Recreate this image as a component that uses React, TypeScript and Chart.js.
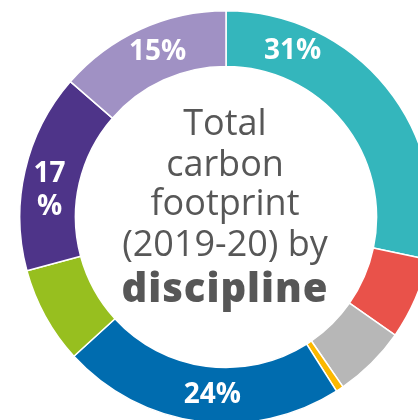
import React, { useEffect, useRef } from "react";
import { Chart, registerables } from "chart.js";

Chart.register(...registerables);

const categories = [
  "Discipline 1",
  "Discipline 2",
  "Discipline 3",
  "Discipline 4",
  "Discipline 5",
  "Discipline 6",
  "Discipline 7",
  "Discipline 8",
];
// share of the ring (as drawn)
const shares = [28.3, 6.4, 5.7, 0.6, 22.2, 7.6, 15.6, 13.6];
const segmentLabels = ["31%", "", "", "", "24%", "", "17\n%", "15%"];
const labelFraction = [0.215, 0.5, 0.5, 0.5, 0.46, 0.5, 0.42, 0.54];
const colors = [
  "#34B6BC",
  "#E9524A",
  "#B7B7B7",
  "#FBB800",
  "#006CAF",
  "#97BF1F",
  "#4E3489",
  "#A091C4",
];
const centerLines = ["Total", "carbon", "footprint", "(2019-20) by", "discipline"];
const centerBold = [false, false, false, false, true];

const textPlugin = {
  id: "textPlugin",
  afterDraw(chart: any) {
    const ctx = chart.ctx;
    const meta = chart.getDatasetMeta(0);
    const first = meta.data[0];
    const cx = first.x;
    const cy = first.y;
    ctx.save();
    // center text
    ctx.textAlign = "center";
    ctx.textBaseline = "alphabetic";
    ctx.fillStyle = "#575757";
    const baselines = [-82, -41, -2, 39, 85];
    centerLines.forEach((t, i) => {
      if (centerBold[i]) {
        ctx.font = "800 40px 'Open Sans'";
        (ctx as any).letterSpacing = "1px";
      } else {
        ctx.font = "36px 'Open Sans'";
        (ctx as any).letterSpacing = "0px";
      }
      ctx.fillText(t, cx - 1, cy + baselines[i]);
    });
    (ctx as any).letterSpacing = "0px";
    // segment labels
    ctx.fillStyle = "#ffffff";
    ctx.font = "bold 28px 'Open Sans'";
    ctx.textBaseline = "middle";
    meta.data.forEach((arc: any, i: number) => {
      const txt = segmentLabels[i];
      if (!txt) return;
      const p = arc.getProps(["startAngle", "endAngle", "innerRadius", "outerRadius"], true);
      const a = p.startAngle + (p.endAngle - p.startAngle) * labelFraction[i];
      const r = (p.innerRadius + p.outerRadius) / 2;
      const x = cx + r * Math.cos(a);
      const y = cy + r * Math.sin(a);
      const lines = txt.split("\n");
      const lh = 33;
      lines.forEach((ln, j) => {
        ctx.fillText(ln, x, y + (j - (lines.length - 1) / 2) * lh);
      });
    });
    ctx.restore();
  },
};

export default function App() {
  const ref = useRef<HTMLCanvasElement>(null);
  useEffect(() => {
    if (!ref.current) return;
    const chart = new Chart(ref.current, {
      type: "doughnut",
      data: {
        labels: categories,
        datasets: [
          {
            data: shares,
            backgroundColor: colors,
            borderColor: "#ffffff",
            borderWidth: 1.5,
          },
        ],
      },
      options: {
        responsive: false,
        animation: false,
        cutout: "73%",
        layout: { padding: 0 },
        plugins: {
          legend: { display: false },
          tooltip: { enabled: false },
        },
      },
      plugins: [textPlugin],
    });
    return () => chart.destroy();
  }, []);
  return (
    <div
      style={{
        position: "fixed",
        left: 0,
        top: 0,
        width: 418,
        height: 420,
        overflow: "hidden",
        background: "#ffffff",
      }}
    >
      <canvas
        ref={ref}
        width={414}
        height={414}
        style={{ position: "absolute", left: 19, top: 10, width: 414, height: 414 }}
      />
    </div>
  );
}
